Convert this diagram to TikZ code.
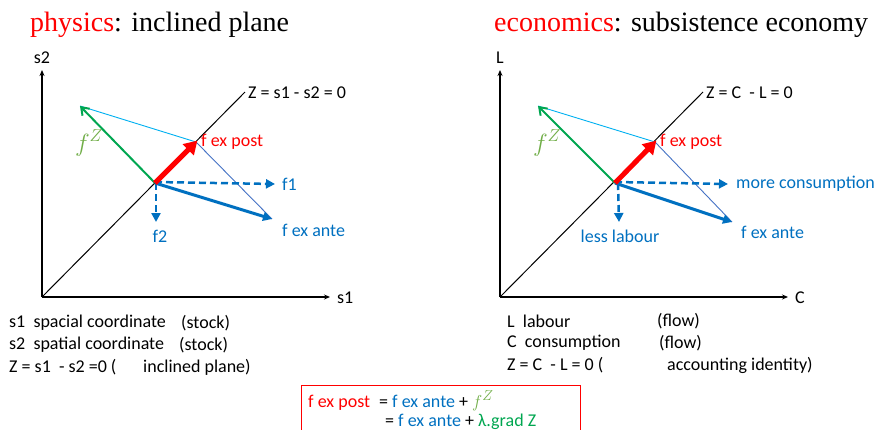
\documentclass[tikz,border=0pt]{standalone}
\usepackage{fontspec}
\setmainfont{Liberation Serif}
\newfontfamily\cali{Carlito}
\usetikzlibrary{arrows.meta}
\definecolor{offblue}{RGB}{0,112,192}
\definecolor{offred}{RGB}{255,0,0}
\definecolor{offgreen}{RGB}{0,166,80}
\definecolor{lgreen}{RGB}{112,173,71}
\definecolor{cyanl}{RGB}{0,176,240}
\definecolor{thinblue}{RGB}{68,114,196}
\newcommand{\fzsym}{{\fontsize{23}{25}\selectfont$f^{Z}$}}
\newcommand{\fzsmall}{{\fontsize{19}{20}\selectfont$f^{Z}$}}
\tikzset{
  lbl/.style={font=\cali\fontsize{18}{20}\selectfont, inner sep=0pt},
  ttl/.style={font=\fontsize{28}{32}\selectfont, inner sep=0pt, anchor=west},
  axis/.style={line width=1.3pt, -{Stealth[length=6pt,width=5pt]}},
  diag/.style={line width=1pt},
  redarr/.style={offred, line width=5pt, -{Triangle[length=13pt,width=15pt]}, shorten >=-2pt},
  greenarr/.style={offgreen, line width=2pt, -{Straight Barb[length=7pt,width=10pt]}},
  cyanline/.style={cyanl, line width=0.9pt},
  thinline/.style={thinblue, line width=0.9pt},
  antearr/.style={offblue, line width=3pt, -{Triangle[length=9pt,width=9pt]}},
  dasharr/.style={offblue, line width=2.5pt, dash pattern=on 7pt off 4pt, -{Triangle[length=9pt,width=9pt]}},
}
\begin{document}
\begin{tikzpicture}[x=1pt,y=-1pt]
\useasboundingbox (0,0) rectangle (877,429);
% titles
\node[ttl] (t1) at (30,25) {\textcolor{offred}{physics}: inclined plane};
\node[ttl] (t2) at (494,25) {\textcolor{offred}{economics}: subsistence economy};

% ---------- left panel ----------
\coordinate (O1) at (42,297);
\coordinate (Y1) at (42,70);
\coordinate (X1) at (330,297);
\coordinate (D1) at (245,92);
\coordinate (P1) at (155,183);
\coordinate (EP1) at (196,142);
\coordinate (FZ1) at (80,106);
\coordinate (EA1) at (272,219);
\coordinate (F11) at (275,184);
\coordinate (F21) at (156,222);
\draw[axis] (O1) -- (Y1);
\draw[axis] (O1) -- (X1);
\draw[diag] (O1) -- (D1);
\node[lbl, anchor=south] (ls2) at (42,64) {s2};
\node[lbl, anchor=west] (ls1) at (337,298) {s1};
\node[lbl, anchor=west] (lz1) at (248,93) {Z = s1 - s2 = 0};
\draw[cyanline] (FZ1) -- (EP1);
\draw[thinline] (EP1) -- (EA1);
\draw[greenarr] (P1) -- (FZ1);
\draw[antearr] (P1) -- (EA1);
\draw[dasharr] ([yshift=1pt]P1) -- (F11);
\draw[dasharr] ([xshift=1pt]P1) -- (F21);
\draw[redarr] (P1) -- (EP1);
\node[lbl, anchor=west, text=offred] (lep1) at (201,142) {f ex post};
\node[lbl, text=lgreen] (lfz1) at (89,143) {\fzsym};
\node[lbl, anchor=west, text=offblue] (lf11) at (282,184) {f1};
\node[lbl, text=offblue] (lf21) at (160,236) {f2};
\node[lbl, anchor=west, text=offblue] (lea1) at (282,230) {f ex ante};
\node[lbl, anchor=west] (a1) at (9,323) {s1\ \ spacial coordinate};
\node[lbl, anchor=west] (a1b) at (181,323) {(stock)};
\node[lbl, anchor=west] (a2) at (9,345) {s2\ \ spatial coordinate};
\node[lbl, anchor=west] (a2b) at (179,345) {(stock)};
\node[lbl, anchor=west] (a3) at (9,367) {Z = s1\ \ - s2 =0 (};
\node[lbl, anchor=west] (a3b) at (143,367) {inclined plane)};

% ---------- right panel ----------
\coordinate (O2) at (500,297);
\coordinate (Y2) at (500,70);
\coordinate (X2) at (788,297);
\coordinate (D2) at (703,92);
\coordinate (P2) at (615,183);
\coordinate (EP2) at (655,142);
\coordinate (FZ2) at (538,106);
\coordinate (EA2) at (732,222);
\coordinate (F12) at (728,184);
\coordinate (F22) at (619,222);
\draw[axis] (O2) -- (Y2);
\draw[axis] (O2) -- (X2);
\draw[diag] (O2) -- (D2);
\node[lbl, anchor=south] (lL) at (500,64) {L};
\node[lbl, anchor=west] (lC) at (795,298) {C};
\node[lbl, anchor=west] (lz2) at (706,93) {Z = C\ \ - L = 0};
\draw[cyanline] (FZ2) -- (EP2);
\draw[thinline] (EP2) -- (EA2);
\draw[greenarr] (P2) -- (FZ2);
\draw[antearr] (P2) -- (EA2);
\draw[dasharr] ([yshift=1pt]P2) -- (F12);
\draw[dasharr] ([xshift=3pt]P2) -- (F22);
\draw[redarr] (P2) -- (EP2);
\node[lbl, anchor=west, text=offred] (lep2) at (660,142) {f ex post};
\node[lbl, text=lgreen] (lfz2) at (547,143) {\fzsym};
\node[lbl, anchor=west, text=offblue] (lf12) at (736,184) {more consumption};
\node[lbl, text=offblue] (lf22) at (620,236) {less labour};
\node[lbl, anchor=west, text=offblue] (lea2) at (741,232) {f ex ante};
\node[lbl, anchor=west] (b1) at (507,321) {L\ \ labour};
\node[lbl, anchor=west] (b1b) at (657,321) {(flow)};
\node[lbl, anchor=west] (b2) at (507,343) {C\ \ consumption};
\node[lbl, anchor=west] (b2b) at (659,343) {(flow)};
\node[lbl, anchor=west] (b3) at (507,365) {Z = C\ \ - L = 0 (};
\node[lbl, anchor=west] (b3b) at (667,365) {accounting identity)};

% ---------- formula box ----------
\draw[offred, line width=1pt] (301,440) -- (301,385) -- (580,385) -- (580,440);
\node[lbl, anchor=base west, text=offred] (e1) at (308,407) {f ex post};
\node[lbl, anchor=base west] (e2) at (379,407) {= \textcolor{offblue}{f ex ante} + \textcolor{lgreen}{\fzsmall}};
\node[lbl, anchor=base west] (e3) at (385,426) {= \textcolor{offblue}{f ex ante} + \textcolor{offgreen}{λ.grad Z}};
\end{tikzpicture}
\end{document}
